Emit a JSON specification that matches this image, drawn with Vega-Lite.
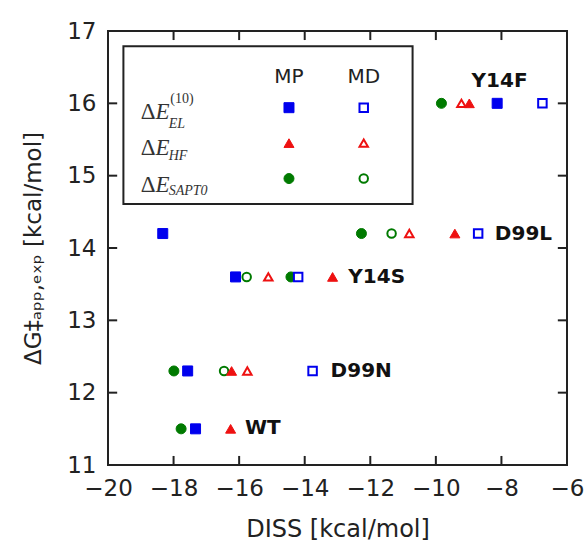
{
  "$schema": "https://vega.github.io/schema/vega-lite/v6.json",
  "width": 459,
  "height": 434,
  "autosize": "none",
  "padding": {"left": 108, "top": 31, "right": 19, "bottom": 76},
  "background": "white",
  "config": {
    "view": {"stroke": "#222222", "strokeWidth": 2},
    "axis": {
      "grid": false,
      "domain": false,
      "ticks": false,
      "tickSize": 0,
      "labelFlush": false,
      "labelOverlap": false,
      "labelFont": "DejaVu Sans",
      "labelFontSize": 23,
      "labelColor": "#222222",
      "titleFont": "DejaVu Sans",
      "titleFontWeight": "normal",
      "titleColor": "#222222"
    }
  },
  "datasets": {
    "pts": [
      {"mutant": "Y14F", "method": "EL", "source": "MP", "diss": -8.13, "dg": 16.0},
      {"mutant": "Y14F", "method": "SAPT0", "source": "MP", "diss": -9.83, "dg": 16.0},
      {"mutant": "Y14F", "method": "HF", "source": "MD", "diss": -9.22, "dg": 16.0},
      {"mutant": "Y14F", "method": "HF", "source": "MP", "diss": -8.98, "dg": 16.0},
      {"mutant": "Y14F", "method": "EL", "source": "MD", "diss": -6.75, "dg": 16.0},
      {"mutant": "D99L", "method": "EL", "source": "MP", "diss": -18.33, "dg": 14.2},
      {"mutant": "D99L", "method": "SAPT0", "source": "MP", "diss": -12.27, "dg": 14.2},
      {"mutant": "D99L", "method": "SAPT0", "source": "MD", "diss": -11.35, "dg": 14.2},
      {"mutant": "D99L", "method": "HF", "source": "MP", "diss": -9.42, "dg": 14.2},
      {"mutant": "D99L", "method": "HF", "source": "MD", "diss": -10.81, "dg": 14.2},
      {"mutant": "D99L", "method": "EL", "source": "MD", "diss": -8.71, "dg": 14.2},
      {"mutant": "Y14S", "method": "EL", "source": "MP", "diss": -16.11, "dg": 13.6},
      {"mutant": "Y14S", "method": "SAPT0", "source": "MP", "diss": -14.42, "dg": 13.6},
      {"mutant": "Y14S", "method": "SAPT0", "source": "MD", "diss": -15.77, "dg": 13.6},
      {"mutant": "Y14S", "method": "HF", "source": "MP", "diss": -13.15, "dg": 13.6},
      {"mutant": "Y14S", "method": "HF", "source": "MD", "diss": -15.11, "dg": 13.6},
      {"mutant": "Y14S", "method": "EL", "source": "MD", "diss": -14.2, "dg": 13.6},
      {"mutant": "D99N", "method": "EL", "source": "MP", "diss": -17.57, "dg": 12.3},
      {"mutant": "D99N", "method": "SAPT0", "source": "MP", "diss": -17.99, "dg": 12.3},
      {"mutant": "D99N", "method": "SAPT0", "source": "MD", "diss": -16.46, "dg": 12.3},
      {"mutant": "D99N", "method": "HF", "source": "MP", "diss": -16.23, "dg": 12.3},
      {"mutant": "D99N", "method": "HF", "source": "MD", "diss": -15.75, "dg": 12.3},
      {"mutant": "D99N", "method": "EL", "source": "MD", "diss": -13.76, "dg": 12.3},
      {"mutant": "WT", "method": "EL", "source": "MP", "diss": -17.33, "dg": 11.5},
      {"mutant": "WT", "method": "SAPT0", "source": "MP", "diss": -17.77, "dg": 11.5},
      {"mutant": "WT", "method": "HF", "source": "MP", "diss": -16.26, "dg": 11.5}
    ],
    "xt": [{"v": -18}, {"v": -16}, {"v": -14}, {"v": -12}, {"v": -10}, {"v": -8}],
    "yt": [{"v": 12}, {"v": 13}, {"v": 14}, {"v": 15}, {"v": 16}],
    "names": [
      {"label": "Y14F", "x": -8.91, "y": 16.31},
      {"label": "D99L", "x": -8.2, "y": 14.2},
      {"label": "Y14S", "x": -12.67, "y": 13.6},
      {"label": "D99N", "x": -13.21, "y": 12.3},
      {"label": "WT", "x": -15.82, "y": 11.51}
    ],
    "box": [{"x1": -19.53, "x2": -10.71, "y1": 14.61, "y2": 16.79}],
    "heads": [
      {"label": "MP", "x": -14.48, "y": 16.36},
      {"label": "MD", "x": -12.2, "y": 16.36}
    ],
    "legend": [
      {"method": "EL", "source": "MP", "x": -14.48, "y": 15.94},
      {"method": "EL", "source": "MD", "x": -12.2, "y": 15.94},
      {"method": "HF", "source": "MP", "x": -14.48, "y": 15.45},
      {"method": "HF", "source": "MD", "x": -12.2, "y": 15.45},
      {"method": "SAPT0", "source": "MP", "x": -14.48, "y": 14.96},
      {"method": "SAPT0", "source": "MD", "x": -12.2, "y": 14.96}
    ],
    "delta": [
      {"label": "Δ", "x": -19.0, "y": 15.885},
      {"label": "Δ", "x": -19.0, "y": 15.383},
      {"label": "Δ", "x": -19.0, "y": 14.871}
    ],
    "eee": [
      {"label": "E", "x": -18.55, "y": 15.885},
      {"label": "E", "x": -18.55, "y": 15.383},
      {"label": "E", "x": -18.55, "y": 14.871}
    ],
    "subs": [
      {"label": "EL", "x": -18.15, "y": 15.72},
      {"label": "HF", "x": -18.15, "y": 15.276},
      {"label": "SAPT0", "x": -18.15, "y": 14.79}
    ],
    "sups": [
      {"label": "(10)", "x": -18.1, "y": 16.06}
    ]
  },
  "resolve": {"axis": {"x": "independent", "y": "independent"}},
  "layer": [
    {
      "data": {"name": "pts"},
      "mark": {"type": "point", "filled": false, "opacity": 1},
      "encoding": {
        "x": {
          "field": "diss", "type": "quantitative",
          "scale": {"domain": [-20, -6], "nice": false, "zero": false},
          "axis": {"values": [-20, -18, -16, -14, -12, -10, -8, -6], "title": "DISS [kcal/mol]", "titleFontSize": 24, "labelPadding": 12, "titlePadding": 17}
        },
        "y": {
          "field": "dg", "type": "quantitative",
          "scale": {"domain": [11, 17], "nice": false, "zero": false},
          "axis": {"values": [11, 12, 13, 14, 15, 16, 17], "title": "ΔG‡ₐₚₚ,ₑₓₚ [kcal/mol]", "titleFontSize": 23, "labelPadding": 12, "titlePadding": 21}
        },
        "shape": {"field": "method", "type": "nominal", "scale": {"domain": ["EL", "HF", "SAPT0"], "range": ["square", "triangle-up", "circle"]}, "legend": null},
        "stroke": {"field": "method", "type": "nominal", "scale": {"domain": ["EL", "HF", "SAPT0"], "range": ["#0000ee", "#ee1111", "#007a00"]}, "legend": null},
        "fill": {
          "condition": {"test": "datum.source === 'MD'", "value": "white"},
          "field": "method", "type": "nominal",
          "scale": {"domain": ["EL", "HF", "SAPT0"], "range": ["#0000ee", "#ee1111", "#007a00"]}, "legend": null
        },
        "size": {"field": "source", "type": "nominal", "scale": {"domain": ["MP", "MD"], "range": [100, 72]}, "legend": null},
        "strokeWidth": {"field": "source", "type": "nominal", "scale": {"domain": ["MP", "MD"], "range": [1, 2]}, "legend": null}
      }
    },
    {
      "data": {"name": "xt"},
      "mark": {"type": "rule", "strokeWidth": 2, "color": "#222222", "opacity": 1},
      "encoding": {
        "x": {"field": "v", "type": "quantitative", "axis": null},
        "y": {"datum": 11, "type": "quantitative", "axis": null},
        "y2": {"datum": 11.125}
      }
    },
    {
      "data": {"name": "xt"},
      "mark": {"type": "rule", "strokeWidth": 2, "color": "#222222", "opacity": 1},
      "encoding": {
        "x": {"field": "v", "type": "quantitative", "axis": null},
        "y": {"datum": 16.875, "type": "quantitative", "axis": null},
        "y2": {"datum": 17}
      }
    },
    {
      "data": {"name": "yt"},
      "mark": {"type": "rule", "strokeWidth": 2, "color": "#222222", "opacity": 1},
      "encoding": {
        "y": {"field": "v", "type": "quantitative", "axis": null},
        "x": {"datum": -20, "type": "quantitative", "axis": null},
        "x2": {"datum": -19.72}
      }
    },
    {
      "data": {"name": "yt"},
      "mark": {"type": "rule", "strokeWidth": 2, "color": "#222222", "opacity": 1},
      "encoding": {
        "y": {"field": "v", "type": "quantitative", "axis": null},
        "x": {"datum": -6.28, "type": "quantitative", "axis": null},
        "x2": {"datum": -6}
      }
    },
    {
      "data": {"name": "names"},
      "mark": {"type": "text", "align": "left", "baseline": "middle", "font": "DejaVu Sans", "fontWeight": "bold", "fontSize": 20, "color": "#111111"},
      "encoding": {
        "x": {"field": "x", "type": "quantitative", "axis": null},
        "y": {"field": "y", "type": "quantitative", "axis": null},
        "text": {"field": "label"}
      }
    },
    {
      "data": {"name": "box"},
      "mark": {"type": "rect", "fill": "white", "stroke": "#222222", "strokeWidth": 2},
      "encoding": {
        "x": {"field": "x1", "type": "quantitative", "axis": null},
        "x2": {"field": "x2"},
        "y": {"field": "y1", "type": "quantitative", "axis": null},
        "y2": {"field": "y2"}
      }
    },
    {
      "data": {"name": "heads"},
      "mark": {"type": "text", "align": "center", "baseline": "middle", "font": "DejaVu Sans", "fontSize": 20, "color": "#222222"},
      "encoding": {
        "x": {"field": "x", "type": "quantitative", "axis": null},
        "y": {"field": "y", "type": "quantitative", "axis": null},
        "text": {"field": "label"}
      }
    },
    {
      "data": {"name": "legend"},
      "mark": {"type": "point", "opacity": 1},
      "encoding": {
        "x": {"field": "x", "type": "quantitative", "axis": null},
        "y": {"field": "y", "type": "quantitative", "axis": null},
        "shape": {"field": "method", "type": "nominal", "legend": null},
        "stroke": {"field": "method", "type": "nominal", "legend": null},
        "fill": {
          "condition": {"test": "datum.source === 'MD'", "value": "white"},
          "field": "method", "type": "nominal", "legend": null
        },
        "size": {"field": "source", "type": "nominal", "legend": null},
        "strokeWidth": {"field": "source", "type": "nominal", "legend": null}
      }
    },
    {
      "data": {"name": "delta"},
      "mark": {"type": "text", "align": "left", "baseline": "middle", "font": "Liberation Serif", "fontSize": 23, "color": "#333333"},
      "encoding": {
        "x": {"field": "x", "type": "quantitative", "axis": null},
        "y": {"field": "y", "type": "quantitative", "axis": null},
        "text": {"field": "label"}
      }
    },
    {
      "data": {"name": "eee"},
      "mark": {"type": "text", "align": "left", "baseline": "middle", "font": "Liberation Serif", "fontStyle": "italic", "fontSize": 23, "color": "#333333"},
      "encoding": {
        "x": {"field": "x", "type": "quantitative", "axis": null},
        "y": {"field": "y", "type": "quantitative", "axis": null},
        "text": {"field": "label"}
      }
    },
    {
      "data": {"name": "subs"},
      "mark": {"type": "text", "align": "left", "baseline": "middle", "font": "Liberation Serif", "fontStyle": "italic", "fontSize": 14, "color": "#333333"},
      "encoding": {
        "x": {"field": "x", "type": "quantitative", "axis": null},
        "y": {"field": "y", "type": "quantitative", "axis": null},
        "text": {"field": "label"}
      }
    },
    {
      "data": {"name": "sups"},
      "mark": {"type": "text", "align": "left", "baseline": "middle", "font": "Liberation Serif", "fontSize": 14, "color": "#333333"},
      "encoding": {
        "x": {"field": "x", "type": "quantitative", "axis": null},
        "y": {"field": "y", "type": "quantitative", "axis": null},
        "text": {"field": "label"}
      }
    }
  ]
}
